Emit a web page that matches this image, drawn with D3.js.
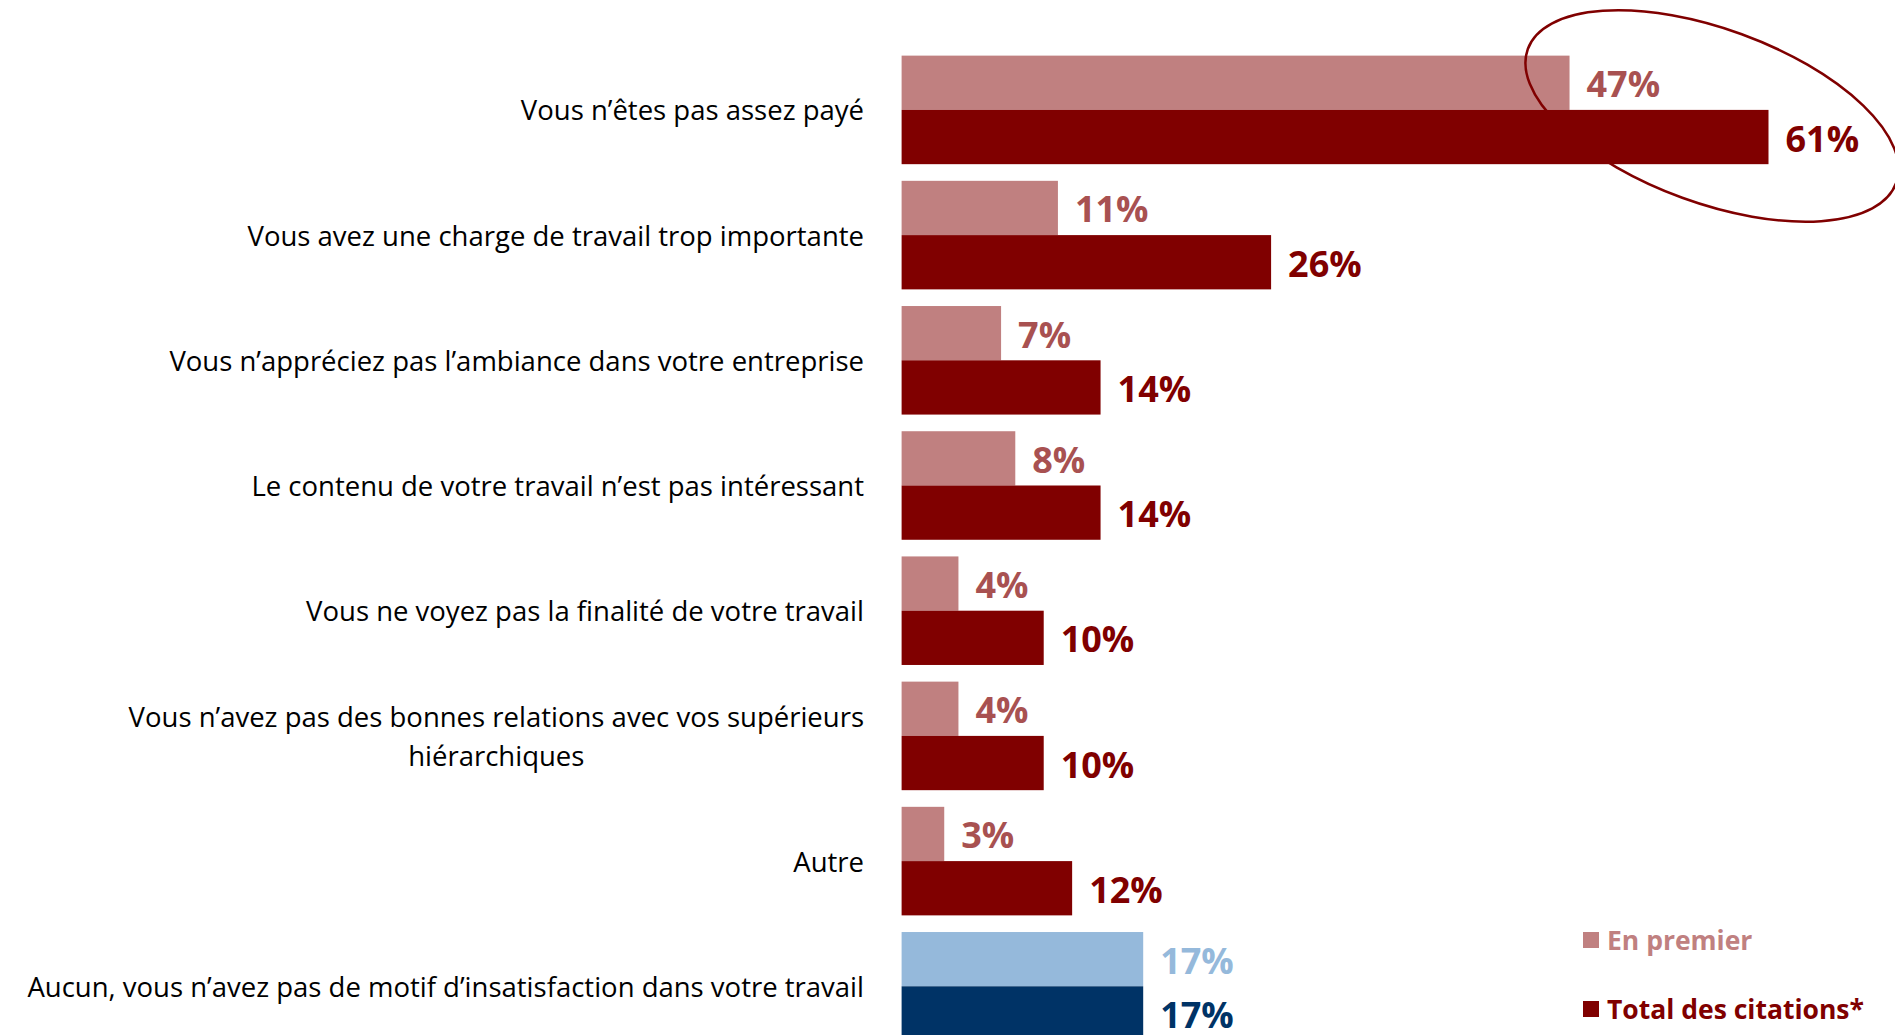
<!DOCTYPE html>
<html>
<head>
<meta charset="utf-8">
<script src="https://cdn.jsdelivr.net/npm/d3@7"></script>
<style>
  body { margin: 0; background: #fff; }
  svg { display: block; font-family: 'Open Sans', sans-serif; }
</style>
</head>
<body>
<main></main>
<script>
// data
const categories = [
  'Vous n’êtes pas assez payé',
  'Vous avez une charge de travail trop importante',
  'Vous n’appréciez pas l’ambiance dans votre entreprise',
  'Le contenu de votre travail n’est pas intéressant',
  'Vous ne voyez pas la finalité de votre travail',
  'Vous n’avez pas des bonnes relations avec vos supérieurs\nhiérarchiques',
  'Autre',
  'Aucun, vous n’avez pas de motif d’insatisfaction dans votre travail'
]
const enPremier = [47, 11, 7, 8, 4, 4, 3, 17]
const totalCitations = [61, 26, 14, 14, 10, 10, 12, 17]
const seriesNames = ['En premier', 'Total des citations*']

const W = 1895
const H = 1035

// red palette, blue for the "Aucun" row
const colors = {
  premier: { bar: '#c08080', text: '#a85151' },
  total: { bar: '#800000', text: '#800000' },
  premierBlue: { bar: '#95b9db', text: '#95b9db' },
  totalBlue: { bar: '#003366', text: '#003366' }
}

const svg = d3.select('main')
  .append('svg')
  .attr('width', W)
  .attr('height', H)

const x = d3.scaleLinear()
  .domain([0, 61])
  .range([901.6, 1768.5])

const y = d3.scaleBand()
  .domain(categories)
  .range([47.3, 1048.9])
  .paddingInner(0.133)
  .paddingOuter(0.0665)

const sub = d3.scaleBand()
  .domain(['premier', 'total'])
  .range([0, y.bandwidth()])

const rows = categories.map((c, i) => ({
  cat: c,
  premier: enPremier[i],
  total: totalCitations[i],
  blue: i === categories.length - 1
}))

const group = svg.selectAll('g.row')
  .data(rows)
  .enter()
  .append('g')
  .attr('class', 'row')
  .attr('transform', d => 'translate(0,' + y(d.cat) + ')')

;['premier', 'total'].forEach(key => {
  group.append('rect')
    .attr('x', x(0))
    .attr('y', sub(key))
    .attr('width', d => x(d[key]) - x(0))
    .attr('height', sub.bandwidth())
    .style('fill', d => colors[key + (d.blue ? 'Blue' : '')].bar)

  group.append('text')
    .attr('x', d => x(d[key]) + 17)
    .attr('y', sub(key) + sub.bandwidth() / 2 + 1)
    .attr('dominant-baseline', 'central')
    .style('font-size', '36px')
    .style('font-weight', 700)
    .style('fill', d => colors[key + (d.blue ? 'Blue' : '')].text)
    .text(d => d[key] + '%')
})

// category labels, right aligned, extra lines centred under the first
const labelX = 864
const lineH = 39
group.each(function (d) {
  const lines = d.cat.split('\n')
  const g = d3.select(this)
  const t = g.append('text')
    .style('font-size', '27.5px')
    .style('fill', '#000')
  const y0 = y.bandwidth() / 2 - (lines.length - 1) * lineH / 2
  const spans = lines.map((l, i) => t.append('tspan')
    .attr('y', y0 + i * lineH)
    .attr('dominant-baseline', 'central')
    .text(l))
  if (lines.length === 1) {
    t.attr('text-anchor', 'end')
    spans[0].attr('x', labelX)
  } else {
    const w = spans[0].node().getComputedTextLength()
    t.attr('text-anchor', 'middle')
    spans.forEach(s => s.attr('x', labelX - w / 2))
  }
})

// legend
const legend = svg.append('g')
  .selectAll('g')
  .data(seriesNames)
  .enter()
  .append('g')
  .attr('transform', (d, i) => 'translate(1583,' + (940 + i * 69) + ')')
legend.append('rect')
  .attr('x', 0)
  .attr('y', -8)
  .attr('width', 16)
  .attr('height', 16)
  .style('fill', (d, i) => i === 0 ? colors.premier.bar : colors.total.bar)
legend.append('text')
  .attr('x', 24)
  .attr('y', 0)
  .attr('dominant-baseline', 'central')
  .style('font-size', '26.5px')
  .style('font-weight', 700)
  .style('fill', (d, i) => i === 0 ? colors.premier.bar : colors.total.bar)
  .text(d => d)

// highlight ellipse round the first row's labels
svg.append('ellipse')
  .attr('cx', 0)
  .attr('cy', 0)
  .attr('rx', 196)
  .attr('ry', 87)
  .attr('transform', 'translate(1712,116) rotate(20)')
  .style('fill', 'none')
  .style('stroke', '#800000')
  .style('stroke-width', 2.5)
</script>
</body>
</html>
